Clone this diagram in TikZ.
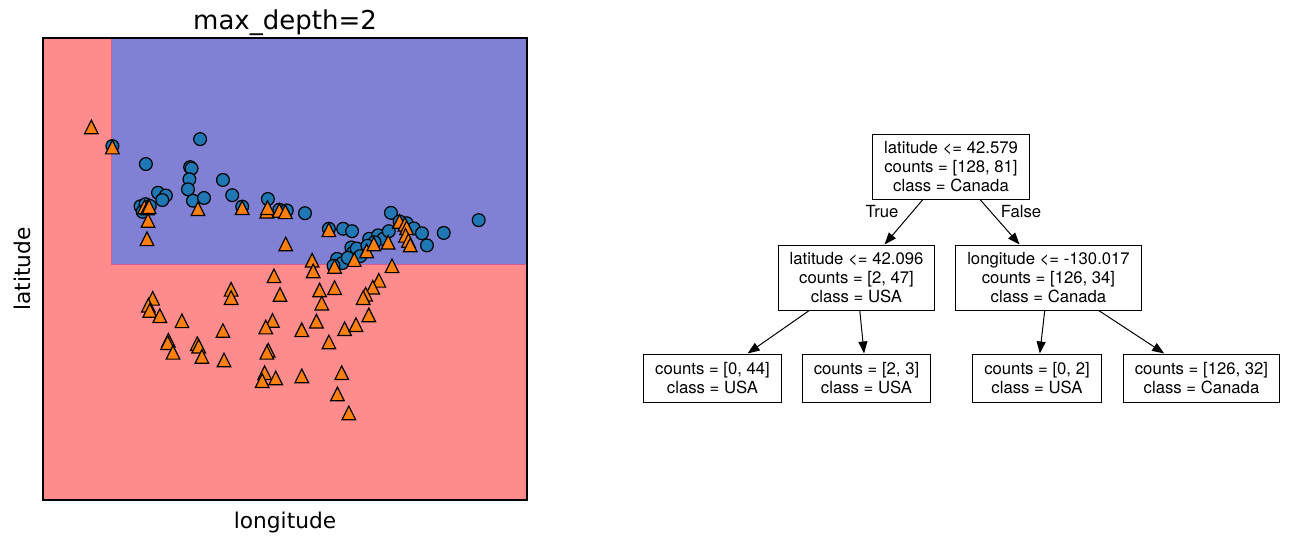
\documentclass[tikz,border=0pt]{standalone}
\usepackage{fontspec}
\setmainfont{DejaVu Sans}
\newfontfamily\treefont{TeX Gyre Heros}
\usetikzlibrary{arrows.meta}
\definecolor{regionred}{RGB}{255,140,140}
\definecolor{regionblue}{RGB}{128,128,212}
\definecolor{regionedge}{RGB}{214,90,140}
\definecolor{ptblue}{RGB}{31,119,180}
\definecolor{ptorange}{RGB}{255,127,14}
\tikzset{tri/.pic={\filldraw[fill=ptorange, draw=black, line width=1.2pt] (0pt,6.8pt) -- (6.8pt,-6.8pt) -- (-6.8pt,-6.8pt) -- cycle;}}

\begin{document}
\begin{tikzpicture}[x=1pt, y=-1pt,
  box/.style={draw, line width=1pt, align=center, inner xsep=11.5pt, font=\treefont\fontsize{16.7}{19}\selectfont},
  split/.style={box, minimum height=65pt},
  leaf/.style={box, minimum height=48pt},
  edge/.style={line width=1pt, -{Triangle[length=12pt,width=9pt]}},
  lbl/.style={font=\treefont\fontsize{16.7}{19}\selectfont},
  dot/.style={fill=ptblue, draw=black, line width=1.2pt}]
		\useasboundingbox (0,0) rectangle (1293,543);
		
		% decision regions
		\fill[regionred] (43,38) rectangle (527,500);
		\filldraw[fill=regionblue, draw=regionedge, line width=0.8pt] (111,38) -- (111,264) -- (527,264) -- (527,38);
		
		% data points
		\begin{scope}[x=0.3567pt, y=-0.3461pt]
		\foreach \x/\y in {315/422, 561/402, 409/474, 533/483, 537/487, 531/518, 527/547, 541/580, 572/572, 443/557,
		  465/565, 455/578, 394/596, 408/590, 420/595, 400/612, 625/520, 651/564, 679/597, 751/575,
		  783/606, 804/608, 855/616, 922/661, 962/661, 987/668, 1096/615, 1035/690, 1060/680, 1075/690,
		  1090/668, 1140/645, 1160/660, 1183/674, 1197/709, 1244/673, 1342/636, 985/715, 990/730, 1000/718,
		  945/748, 960/760, 975/745, 1010/740, 935/768, 1050/700, 1030/710, 1120/640}
		  \draw[dot] (\x,\y) circle[radius=6.4pt];
		\foreach \x/\y in {256/367, 315/425, 405/598, 413/601, 418/597, 415/637, 412/690, 555/603, 679/600, 748/610,
		  750/600, 783/608, 800/612, 801/705, 922/664, 875/752, 878/783, 938/770, 993/750, 1028/725,
		  1048/705, 1088/700, 1120/640, 1135/648, 1140/658, 1137/680, 1145/695, 1150/708, 1099/768, 768/797,
		  648/836, 648/860, 785/851, 896/838, 938/831, 902/876, 1062/810, 1045/830, 1025/850, 1018/860,
		  1034/910, 428/862, 416/882, 420/897, 448/912, 510/927, 625/955, 764/926, 745/945, 887/928,
		  846/953, 966/950, 998/938, 472/983, 470/990, 553/993, 557/1000, 485/1018, 566/1030, 628/1040,
		  752/1012, 748/1018, 922/988, 742/1077, 735/1100, 773/1092, 846/1086, 958/1077, 946/1138, 978/1193}
		  \pic at (\x,\y) {tri};
		\end{scope}
		\draw[line width=1.2pt] (43,38) rectangle (527,500);
		
		\node[anchor=base, font=\fontsize{26}{31}\selectfont] (title) at (285,30) {max\_depth=2};
		\node[anchor=base, font=\fontsize{21.7}{26}\selectfont] (xlabel) at (285,528) {longitude};
		\node[rotate=90, anchor=base, font=\fontsize{21.7}{26}\selectfont] (ylabel) at (30.5,269) {latitude};
		
		% tree
		\node[split] (root) at (951,166.5) {latitude <= 42.579\\counts = [128, 81]\\class = Canada};
		\node[split] (lchild) at (856.5,277.5) {latitude <= 42.096\\counts = [2, 47]\\class = USA};
		\node[split] (rchild) at (1048.5,277.5) {longitude <= -130.017\\counts = [126, 34]\\class = Canada};
		\node[leaf] (leafa) at (712.5,378) {counts = [0, 44]\\class = USA};
		\node[leaf] (leafb) at (866.5,378) {counts = [2, 3]\\class = USA};
		\node[leaf] (leafc) at (1037,378) {counts = [0, 2]\\class = USA};
		\node[leaf] (leafd) at (1201.5,378) {counts = [126, 32]\\class = Canada};
		\node[lbl] (true) at (882,212) {True};
		\node[lbl] (false) at (1021,212) {False};
		
		\draw[edge] (root) -- (lchild);
		\draw[edge] (root) -- (rchild);
		\draw[edge] (lchild) -- (leafa);
		\draw[edge] (lchild) -- (leafb);
		\draw[edge] (rchild) -- (leafc);
		\draw[edge] (rchild) -- (leafd);
\end{tikzpicture}
\end{document}
